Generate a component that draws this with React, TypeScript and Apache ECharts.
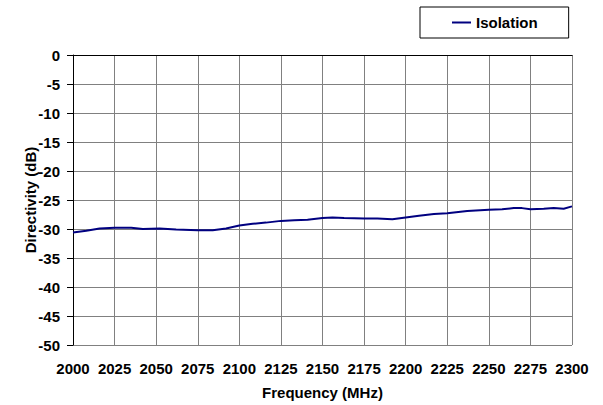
import React, { useEffect, useRef } from "react";
import * as echarts from "echarts";

const frequencies = [
  2000, 2008, 2016, 2025, 2035, 2042, 2052, 2062, 2075, 2084, 2092, 2100, 2108, 2116,
  2125, 2133, 2141, 2150, 2156, 2163, 2175, 2183, 2192, 2200, 2208, 2217, 2225, 2237,
  2250, 2258, 2265, 2270, 2275, 2283, 2289, 2295, 2300,
];
const isolation = [
  -30.6, -30.3, -29.9, -29.8, -29.8, -30.0, -29.9, -30.1, -30.2, -30.2, -29.9, -29.4, -29.1, -28.9,
  -28.6, -28.5, -28.4, -28.1, -28.0, -28.1, -28.2, -28.2, -28.3, -28.0, -27.7, -27.4, -27.3, -26.9,
  -26.7, -26.6, -26.4, -26.4, -26.6, -26.5, -26.4, -26.5, -26.1,
];
const seriesName = "Isolation";
const xTitle = "Frequency (MHz)";
const yTitle = "Directivity (dB)";

const FONT = 'Arial, "Liberation Sans", sans-serif';

export default function App() {
  const ref = useRef<HTMLDivElement>(null);
  useEffect(() => {
    if (!ref.current) return;
    const chart = echarts.init(ref.current, undefined, { renderer: "svg" });
    chart.setOption({
      animation: false,
      backgroundColor: "#ffffff",
      textStyle: { fontFamily: FONT },
      grid: { left: 73, right: 31, top: 55, bottom: 60, containLabel: false },
      legend: {
        data: [{ name: seriesName, icon: "rect" }],
        left: 420,
        top: 7,
        padding: [8, 31, 8, 32],
        itemWidth: 19,
        itemHeight: 2,
        itemGap: 5,
        borderColor: "#000",
        borderWidth: 1,
        textStyle: { fontFamily: FONT, fontSize: 15, fontWeight: "bold", color: "#000" },
      },
      xAxis: {
        type: "value",
        min: 2000,
        max: 2300,
        interval: 25,
        name: xTitle,
        nameLocation: "middle",
        nameGap: 40,
        nameMoveOverlap: false,
        nameTextStyle: { fontFamily: FONT, fontSize: 15, fontWeight: "bold", color: "#000" },
        axisLine: { show: true, lineStyle: { color: "#000", width: 1 } },
        axisTick: { show: false },
        axisLabel: {
          margin: 16,
          fontFamily: FONT,
          fontSize: 15,
          fontWeight: "bold",
          color: "#000",
          formatter: (v: number) => String(v),
        },
        splitLine: { show: true, lineStyle: { color: "#808080", width: 1 } },
      },
      yAxis: {
        type: "value",
        min: -50,
        max: 0,
        interval: 5,
        name: yTitle,
        nameLocation: "middle",
        nameGap: 35,
        nameMoveOverlap: false,
        nameTextStyle: { fontFamily: FONT, fontSize: 15, fontWeight: "bold", color: "#000" },
        axisLine: { show: true, lineStyle: { color: "#000", width: 1 } },
        axisTick: { show: true, inside: false, length: 6, lineStyle: { color: "#000" } },
        axisLabel: {
          margin: 13,
          fontFamily: FONT,
          fontSize: 15,
          fontWeight: "bold",
          color: "#000",
          formatter: (v: number) => String(v),
        },
        splitLine: { show: true, lineStyle: { color: "#808080", width: 1 } },
      },
      series: [
        {
          name: seriesName,
          type: "line",
          data: frequencies.map((f, i) => [f, isolation[i]]),
          symbol: "none",
          smooth: false,
          lineStyle: { color: "#000080", width: 2 },
          itemStyle: { color: "#000080" },
        },
      ],
    });
    return () => chart.dispose();
  }, []);
  return (
    <div
      ref={ref}
      style={{ position: "fixed", left: 0, top: 0, width: 603, height: 405 }}
    />
  );
}
